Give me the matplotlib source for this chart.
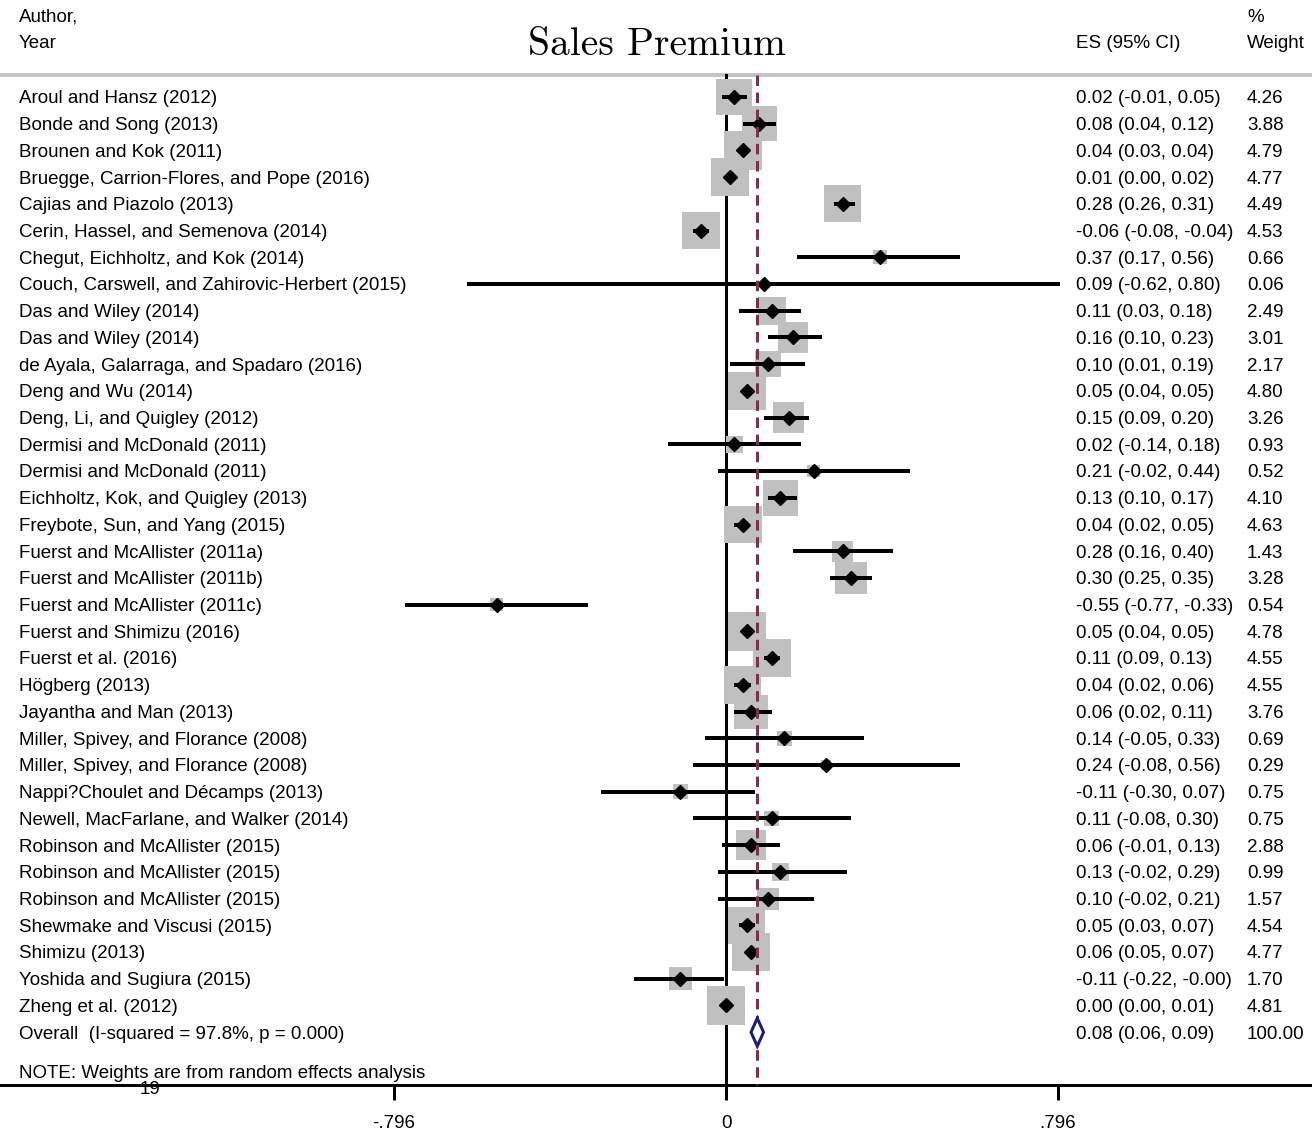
import numpy as np
import matplotlib
matplotlib.use("Agg")
import matplotlib.pyplot as plt
from matplotlib.transforms import blended_transform_factory

DPI = 100
W, H = 1312, 1131

studies = [
    "Aroul and Hansz (2012)",
    "Bonde and Song (2013)",
    "Brounen and Kok (2011)",
    "Bruegge, Carrion-Flores, and Pope (2016)",
    "Cajias and Piazolo (2013)",
    "Cerin, Hassel, and Semenova (2014)",
    "Chegut, Eichholtz, and Kok (2014)",
    "Couch, Carswell, and Zahirovic-Herbert (2015)",
    "Das and Wiley (2014)",
    "Das and Wiley (2014)",
    "de Ayala, Galarraga, and Spadaro (2016)",
    "Deng and Wu (2014)",
    "Deng, Li, and Quigley (2012)",
    "Dermisi and McDonald (2011)",
    "Dermisi and McDonald (2011)",
    "Eichholtz, Kok, and Quigley (2013)",
    "Freybote, Sun, and Yang (2015)",
    "Fuerst and McAllister (2011a)",
    "Fuerst and McAllister (2011b)",
    "Fuerst and McAllister (2011c)",
    "Fuerst and Shimizu (2016)",
    "Fuerst et al. (2016)",
    "Högberg (2013)",
    "Jayantha and Man (2013)",
    "Miller, Spivey, and Florance (2008)",
    "Miller, Spivey, and Florance (2008)",
    "Nappi?Choulet and Décamps (2013)",
    "Newell, MacFarlane, and Walker (2014)",
    "Robinson and McAllister (2015)",
    "Robinson and McAllister (2015)",
    "Robinson and McAllister (2015)",
    "Shewmake and Viscusi (2015)",
    "Shimizu (2013)",
    "Yoshida and Sugiura (2015)",
    "Zheng et al. (2012)",
]
es = [0.02, 0.08, 0.04, 0.01, 0.28, -0.06, 0.37, 0.09, 0.11, 0.16, 0.10, 0.05,
      0.15, 0.02, 0.21, 0.13, 0.04, 0.28, 0.30, -0.55, 0.05, 0.11, 0.04, 0.06,
      0.14, 0.24, -0.11, 0.11, 0.06, 0.13, 0.10, 0.05, 0.06, -0.11, 0.00]
lo = [-0.01, 0.04, 0.03, 0.00, 0.26, -0.08, 0.17, -0.62, 0.03, 0.10, 0.01, 0.04,
      0.09, -0.14, -0.02, 0.10, 0.02, 0.16, 0.25, -0.77, 0.04, 0.09, 0.02, 0.02,
      -0.05, -0.08, -0.30, -0.08, -0.01, -0.02, -0.02, 0.03, 0.05, -0.22, 0.00]
hi = [0.05, 0.12, 0.04, 0.02, 0.31, -0.04, 0.56, 0.80, 0.18, 0.23, 0.19, 0.05,
      0.20, 0.18, 0.44, 0.17, 0.05, 0.40, 0.35, -0.33, 0.05, 0.13, 0.06, 0.11,
      0.33, 0.56, 0.07, 0.30, 0.13, 0.29, 0.21, 0.07, 0.07, -0.004, 0.01]
weight = [4.26, 3.88, 4.79, 4.77, 4.49, 4.53, 0.66, 0.06, 2.49, 3.01, 2.17, 4.80,
          3.26, 0.93, 0.52, 4.10, 4.63, 1.43, 3.28, 0.54, 4.78, 4.55, 4.55, 3.76,
          0.69, 0.29, 0.75, 0.75, 2.88, 0.99, 1.57, 4.54, 4.77, 1.70, 4.81]

overall_label = "Overall  (I-squared = 97.8%, p = 0.000)"
overall_es, overall_lo, overall_hi = 0.075, 0.06, 0.09
overall_text = "0.08 (0.06, 0.09)"
overall_weight = 100.00

ticks = [-0.796, 0, 0.796]
tick_labels = ["-.796", "0", ".796"]

# pixel layout: 0 at x=726, .796 at x=1058 ; first row at y=97, 26.72 px per row
px_per_unit = (1058 - 726) / 0.796
row_h = 26.72
y0 = 97

fig = plt.figure(figsize=(W / DPI, H / DPI), dpi=DPI)
ax = fig.add_axes([0, 0, 1, 1])
ax.set_xlim(-726 / px_per_unit, (W - 726) / px_per_unit)
ax.set_ylim((H - y0) / row_h, -y0 / row_h)

def py(p):
    return (p - y0) / row_h

def pt(px):
    return px * 72 / DPI

n = len(studies)
rows = np.arange(n)
top_line = py(75)
axis_row = py(1085)

# reference lines
ax.axhline(top_line, color="#c4c4c4", lw=pt(4), zorder=1)
ax.plot([0, 0], [top_line, axis_row], color="black", lw=pt(3), zorder=1)
ax.plot([overall_es, overall_es], [top_line, axis_row], color="#8b2a44",
        lw=pt(3), ls=(0, (3.5, 2.2)), zorder=4)

# weight boxes
side = 17.5 * np.sqrt(np.array(weight))
ax.scatter(es, rows, marker="s", s=pt(side) ** 2, color="#c0c0c0",
           linewidths=0, zorder=2)
# confidence intervals and point estimates
ax.hlines(rows, lo, hi, color="black", lw=pt(4), zorder=3)
ax.plot(es, rows, "D", color="black", ms=pt(9.5), zorder=3)

# overall diamond
r = n
hd = 14 / row_h
ax.fill([overall_lo, overall_es, overall_hi, overall_es],
        [r, r - hd, r, r + hd], facecolor="white", edgecolor="#1c1c7a",
        lw=pt(3), zorder=5)

# bottom axis
for s in ["top", "left", "right"]:
    ax.spines[s].set_visible(False)
ax.spines["bottom"].set_position(("data", axis_row))
ax.spines["bottom"].set_linewidth(pt(3))
ax.set_xticks(ticks)
ax.set_xticklabels(tick_labels)
ax.tick_params(axis="x", direction="out", length=pt(15), width=pt(3),
               pad=pt(15), labelsize=13.5, colors="black")
ax.set_yticks([])
ax.xaxis.set_tick_params(labelfontfamily="Liberation Sans")

fs = 13.5
font = "Liberation Sans"
tr = blended_transform_factory(fig.transFigure, ax.transData)
dy = 0.07

def fx(px):
    return px / W

for i in range(n):
    ax.text(fx(19), i + dy, studies[i], transform=tr, ha="left", va="center",
            fontsize=fs, family=font)
    ax.text(fx(1076), i + dy, f"{es[i]:.2f} ({lo[i]:.2f}, {hi[i]:.2f})",
            transform=tr, ha="left", va="center", fontsize=fs, family=font)
    ax.text(fx(1247), i + dy, f"{weight[i]:.2f}", transform=tr, ha="left",
            va="center", fontsize=fs, family=font)

ax.text(fx(19), n + dy, overall_label, transform=tr, ha="left", va="center",
        fontsize=fs, family=font)
ax.text(fx(1076), n + dy, overall_text, transform=tr, ha="left", va="center",
        fontsize=fs, family=font)
ax.text(fx(1247), n + dy, f"{overall_weight:.2f}", transform=tr, ha="left",
        va="center", fontsize=fs, family=font)

# header
def fy(p):
    return 1 - p / H

fig.text(fx(19), fy(17), "Author,", ha="left", va="center", fontsize=fs, family=font)
fig.text(fx(19), fy(44), "Year", ha="left", va="center", fontsize=fs, family=font)
fig.text(fx(1076), fy(44), "ES (95% CI)", ha="left", va="center", fontsize=fs, family=font)
fig.text(fx(1247), fy(17), "%", ha="left", va="center", fontsize=fs, family=font)
fig.text(fx(1247), fy(44), "Weight", ha="left", va="center", fontsize=fs, family=font)
fig.text(fx(657), fy(45), "Sales Premium", ha="center", va="center",
         fontsize=28.5, family="cmr10")

fig.text(fx(19), fy(1073), "NOTE: Weights are from random effects analysis",
         ha="left", va="center", fontsize=fs, family=font)
fig.text(fx(150), fy(1089), "19", ha="center", va="center", fontsize=fs, family=font)

fig.savefig("out.png", dpi=DPI)
